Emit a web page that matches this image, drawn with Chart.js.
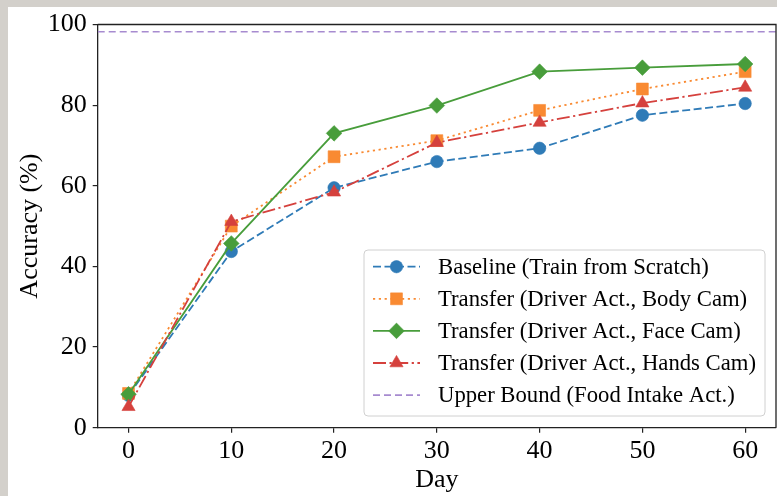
<!DOCTYPE html>
<html><head><meta charset="utf-8">
<script src="https://cdn.jsdelivr.net/npm/chart.js@4.4.0/dist/chart.umd.min.js"></script>
<style>
html,body{margin:0;padding:0;background:#d3d0cb;width:777px;height:496px;overflow:hidden}
#wrap{position:absolute;left:8px;top:7px;width:769px;height:489px;background:#fff}
canvas{display:block}
</style></head>
<body><div id="wrap"><canvas id="c" width="769" height="489" style="width:769px;height:489px"></canvas></div>
<script>
const days = [0, 10, 20, 30, 40, 50, 60];
const baseline = [8.0, 43.7, 59.5, 66.0, 69.3, 77.5, 80.4];
const bodyCam  = [8.5, 50.0, 67.2, 71.2, 78.7, 84.0, 88.3];
const faceCam  = [8.3, 45.7, 73.0, 79.9, 88.3, 89.3, 90.2];
const handsCam = [5.2, 51.1, 58.4, 70.7, 75.7, 80.5, 84.4];
const upperBound = 98.2;
const xTicks = [0, 10, 20, 30, 40, 50, 60];
const yTicks = [0, 20, 40, 60, 80, 100];
const xMin = -3, xMax = 63;
const labels = [
  'Baseline (Train from Scratch)',
  'Transfer (Driver Act., Body Cam)',
  'Transfer (Driver Act., Face Cam)',
  'Transfer (Driver Act., Hands Cam)',
  'Upper Bound (Food Intake Act.)'
];

const FONT = '"Liberation Serif", "DejaVu Serif", serif';
const pts = arr => days.map((d, i) => ({x: d, y: arr[i]}));

const styles = [
  {color: '#2f7bb7', dash: [8, 3.5], point: 'circle', r: 6.2},
  {color: '#f98a32', dash: [2.2, 3.6], point: 'rect', r: 8.4},
  {color: '#489d3b', dash: [], point: 'rectRot', r: 7.8},
  {color: '#d5413d', dash: [13, 3.5, 2.2, 3.5], point: 'triangle', r: 7.6},
  {color: '#a78bd0', dash: [7, 4], point: false, r: 0}
];

const series = [baseline, bodyCam, faceCam, handsCam];
const datasets = series.map((s, i) => ({
  label: labels[i],
  data: pts(s),
  borderColor: styles[i].color,
  backgroundColor: styles[i].color,
  borderWidth: 1.8,
  borderDash: styles[i].dash,
  pointStyle: styles[i].point,
  pointRadius: styles[i].r,
  pointBorderWidth: 0.6,
  pointBorderColor: styles[i].color,
  pointHoverRadius: styles[i].r,
  tension: 0,
  order: 10 - i
}));
datasets.push({
  label: labels[4],
  data: [{x: xMin, y: upperBound}, {x: xMax, y: upperBound}],
  borderColor: styles[4].color,
  borderWidth: 1.6,
  borderDash: styles[4].dash,
  pointRadius: 0,
  order: 1
});

const frameLegend = {
  id: 'frameLegend',
  afterDraw(chart) {
    const ctx = chart.ctx, a = chart.chartArea;
    ctx.save();
    ctx.strokeStyle = '#222';
    ctx.lineWidth = 1.3;
    ctx.beginPath();
    ctx.moveTo(a.left, a.top); ctx.lineTo(a.right, a.top); ctx.lineTo(a.right, a.bottom);
    ctx.stroke();

    // legend box
    const w = 401, h = 166;
    const bx = a.right - 11 - w, by = a.bottom - 11.7 - h;
    const rad = 4;
    ctx.beginPath();
    ctx.moveTo(bx + rad, by);
    ctx.arcTo(bx + w, by, bx + w, by + h, rad);
    ctx.arcTo(bx + w, by + h, bx, by + h, rad);
    ctx.arcTo(bx, by + h, bx, by, rad);
    ctx.arcTo(bx, by, bx + w, by, rad);
    ctx.closePath();
    ctx.fillStyle = 'rgba(255,255,255,0.85)';
    ctx.fill();
    ctx.strokeStyle = '#d0d0d0';
    ctx.lineWidth = 1;
    ctx.stroke();

    ctx.font = '22.7px ' + FONT;
    ctx.textBaseline = 'middle';
    ctx.textAlign = 'left';
    for (let i = 0; i < 5; i++) {
      const y = by + 16.7 + i * 32.1;
      const st = styles[i];
      ctx.strokeStyle = st.color;
      ctx.lineWidth = 1.8;
      ctx.setLineDash(st.dash);
      ctx.beginPath();
      ctx.moveTo(bx + 9, y); ctx.lineTo(bx + 56, y);
      ctx.stroke();
      ctx.setLineDash([]);
      if (st.point) {
        ctx.fillStyle = st.color;
        ctx.strokeStyle = st.color;
        ctx.lineWidth = 0.6;
        Chart.helpers.drawPoint(ctx, {pointStyle: st.point, radius: st.r, rotation: 0, borderWidth: 0.6}, bx + 32.5, y);
      }
      ctx.fillStyle = '#000';
      ctx.fillText(labels[i], bx + 74, y + 1);
    }
    ctx.restore();
  }
};

const TARGET_RIGHT = 768;
const chart = new Chart(document.getElementById('c'), {
  type: 'line',
  data: {datasets},
  plugins: [frameLegend],
  options: {
    responsive: false,
    animation: false,
    devicePixelRatio: 1,
    layout: {autoPadding: false, padding: {top: 17.5, right: 1, left: 0, bottom: 0}},
    plugins: {legend: {display: false}, tooltip: {enabled: false}},
    scales: {
      x: {
        type: 'linear', min: xMin, max: xMax,
        afterBuildTicks: s => { s.ticks = xTicks.map(v => ({value: v})); },
        afterFit: s => { s.height = 68.3; s.paddingLeft = 0; s.paddingRight = 0; },
        ticks: {font: {family: FONT, size: 26}, color: '#000', padding: 3},
        grid: {display: true, drawOnChartArea: false, drawTicks: true, tickLength: 5, color: '#222', lineWidth: 1.2},
        border: {display: true, color: '#222', width: 1.3},
        title: {display: true, text: 'Day', font: {family: FONT, size: 26}, color: '#000', padding: {top: 0, bottom: 0}}
      },
      y: {
        type: 'linear', min: 0, max: 100,
        afterBuildTicks: s => { s.ticks = yTicks.map(v => ({value: v})); },
        afterFit: s => { s.width = 89.7; s.paddingTop = 0; s.paddingBottom = 0; },
        ticks: {font: {family: FONT, size: 26}, color: '#000', padding: 6},
        grid: {display: true, drawOnChartArea: false, drawTicks: true, tickLength: 5, color: '#222', lineWidth: 1.2},
        border: {display: true, color: '#222', width: 1.3},
        title: {display: true, text: 'Accuracy (%)', font: {family: FONT, size: 26}, color: '#000', padding: {top: 6.5, bottom: 0}}
      }
    }
  }
});
const delta = TARGET_RIGHT - chart.chartArea.right;
if (Math.abs(delta) > 0.5) {
  chart.options.layout.padding.right = 1 - delta;
  chart.update();
}
</script>
</body></html>
